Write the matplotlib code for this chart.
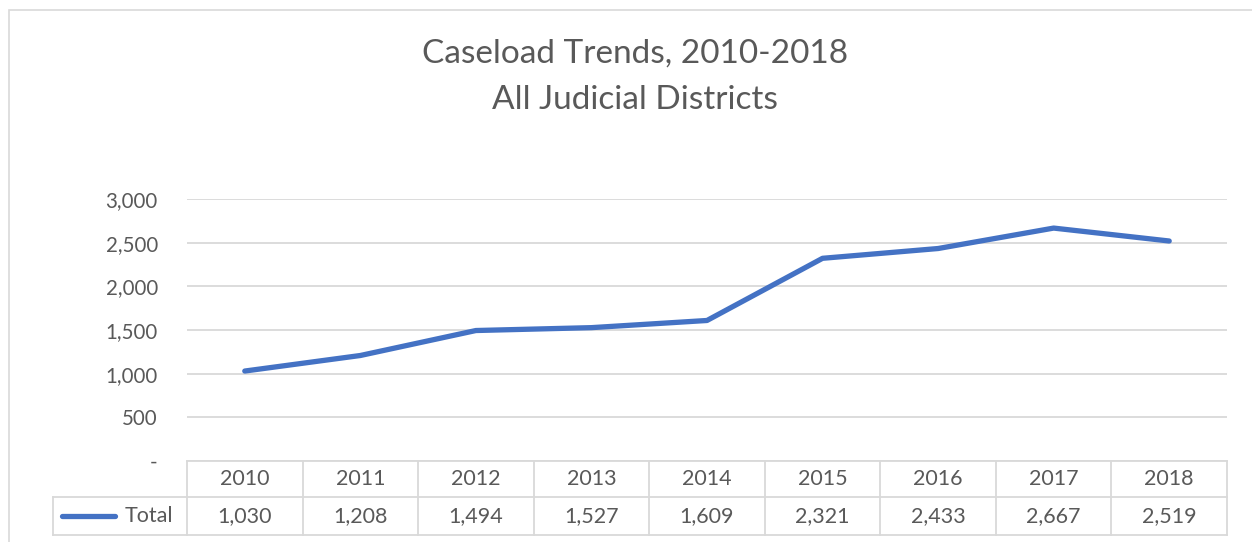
import matplotlib.pyplot as plt
from matplotlib.patches import Rectangle
from matplotlib.ticker import FuncFormatter

plt.rcParams['font.family'] = ['Lato', 'DejaVu Sans']

years = ["2010", "2011", "2012", "2013", "2014", "2015", "2016", "2017", "2018"]
total = [1030, 1208, 1494, 1527, 1609, 2321, 2433, 2667, 2519]
series_name = "Total"

blue = "#4472C4"
grey_txt = "#595959"
grid_c = "#D9D9D9"

W, H = 1252, 542
fig = plt.figure(figsize=(W / 100, H / 100), dpi=100)

# outer chart border (runs off right and bottom)
fig.patches.append(Rectangle((9 / W, -0.1), 1.2, (H - 10) / H + 0.1, transform=fig.transFigure,
                             fill=False, edgecolor=grid_c, linewidth=1.2))

fig.text(635 / W, 1 - 54 / H, "Caseload Trends, 2010-2018", ha="center", va="center",
         fontsize=24, color=grey_txt, fontweight="normal")
fig.text(635 / W, 1 - 100 / H, "All Judicial Districts", ha="center", va="center",
         fontsize=24, color=grey_txt, fontweight="normal")

left, right, top, bottom = 187, 1227, 199, 461
ax = fig.add_axes([left / W, 1 - bottom / H, (right - left) / W, (bottom - top) / H])

x = list(range(len(years)))
ax.plot(x, total, color=blue, linewidth=3.8, solid_capstyle="round", solid_joinstyle="round",
        zorder=3)
ax.set_xlim(-0.5, len(years) - 0.5)
ax.set_ylim(0, 3000)
ax.set_yticks(range(0, 3001, 500))
ax.yaxis.set_major_formatter(FuncFormatter(lambda v, p: "-" if v == 0 else f"{v:,.0f}"))
ax.set_xticks([])
ax.grid(axis="y", color=grid_c, linewidth=1.3)
ax.set_axisbelow(True)
for s in ax.spines.values():
    s.set_visible(False)
ax.tick_params(axis="y", length=0, pad=21, labelsize=14.8, labelcolor=grey_txt)

# data table under the plot, in axes fraction units
ph = bottom - top
r1 = -36 / ph
r2 = -74 / ph
leg_left = (53 - left) / (right - left)
n = len(years)
lk = dict(color=grid_c, linewidth=1.3, transform=ax.transAxes, clip_on=False)
ax.plot([0, 1], [0, 0], **lk)
ax.plot([leg_left, 1], [r1, r1], **lk)
ax.plot([leg_left, 1], [r2, r2], **lk)
ax.plot([leg_left, leg_left], [r1, r2], **lk)
for i in range(n + 1):
    ax.plot([i / n, i / n], [0, r2], **lk)

for i, (yr, v) in enumerate(zip(years, total)):
    cx = (i + 0.5) / n
    ax.text(cx, r1 / 2, yr, transform=ax.transAxes, ha="center", va="center",
            fontsize=15.5, color=grey_txt)
    ax.text(cx, (r1 + r2) / 2, f"{v:,}", transform=ax.transAxes, ha="center", va="center",
            fontsize=15.5, color=grey_txt)

# legend key inside the table
ly = (r1 + r2) / 2
ax.plot([(62 - left) / (right - left), (115 - left) / (right - left)], [ly, ly], color=blue,
        linewidth=3.8, solid_capstyle="round", transform=ax.transAxes, clip_on=False)
ax.text((125 - left) / (right - left), ly, series_name, transform=ax.transAxes, ha="left",
        va="center", fontsize=15.5, color=grey_txt)

fig.savefig("out.png", dpi=100)
